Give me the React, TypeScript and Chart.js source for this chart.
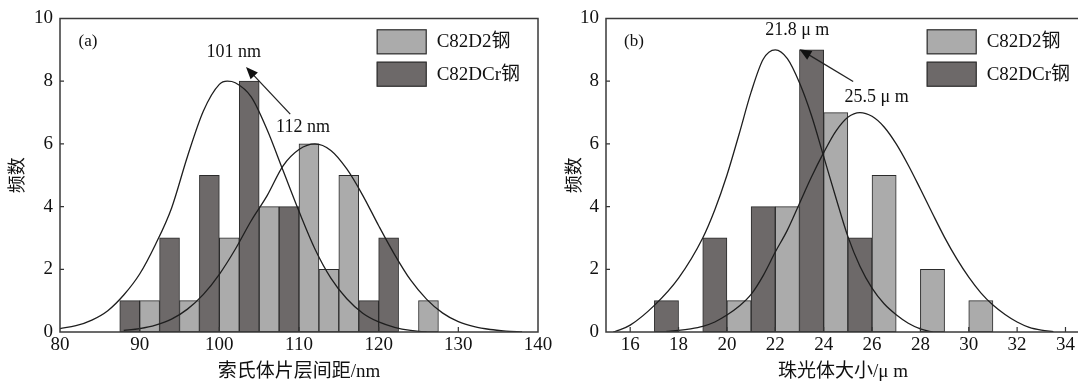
import React, { useEffect, useRef } from 'react';
import { Chart, registerables } from 'chart.js';

Chart.register(...registerables);

const FONT = "'Liberation Serif', 'Noto Sans CJK SC', serif";
const CJK = "'Liberation Serif', 'Noto Sans CJK SC', serif";
const INK = '#111111';

// ---------- shared ----------
const seriesNames = ['C82D2钢', 'C82DCr钢'];
const yTicks = [0, 2, 4, 6, 8, 10];
const LIGHT = '#ababab';
const DARK = '#6d6969';

// ---------- panel (a) ----------
const aXTicks = [80, 90, 100, 110, 120, 130, 140];
const aLightBinCenters = [91.25, 96.25, 101.25, 106.25, 111.25, 113.75, 116.25, 126.25];
const aLightCounts = [1, 1, 3, 4, 6, 2, 5, 1];
const aDarkBinCenters = [88.75, 93.75, 98.75, 103.75, 108.75, 118.75, 121.25];
const aDarkCounts = [1, 3, 5, 8, 4, 1, 3];
const aDarkFitX = [80, 82, 84, 86, 88, 90, 92, 94, 96, 98, 100, 101, 102, 104, 106, 108, 110, 112, 114, 116, 118, 120, 122, 124, 126];
const aDarkFitY = [0.11, 0.2, 0.38, 0.68, 1.18, 1.85, 2.8, 3.95, 5.6, 7.05, 7.9, 8.0, 7.95, 7.5, 6.45, 5.15, 3.85, 2.65, 1.72, 1.06, 0.6, 0.32, 0.15, 0.05, 0.0];
const aLightFitX = [88, 90, 92, 94, 96, 98, 100, 102, 104, 106, 108, 110, 112, 114, 116, 118, 120, 122, 124, 126, 128, 130, 132, 134, 136, 138];
const aLightFitY = [0.05, 0.11, 0.22, 0.41, 0.73, 1.2, 1.84, 2.64, 3.55, 4.35, 5.3, 5.82, 6.0, 5.79, 5.2, 4.36, 3.39, 2.47, 1.66, 1.05, 0.61, 0.33, 0.17, 0.08, 0.03, 0.0];
const aPeakLabels = ['101 nm', '112 nm'];
const aPeakLabelX = [101.8, 110.5];
const aPeakLabelY = [8.92, 6.52];
const aArrowFrom = [108.9, 6.95];
const aArrowTo = [103.35, 8.45];

// ---------- panel (b) ----------
const bXTicks = [16, 18, 20, 22, 24, 26, 28, 30, 32, 34];
const bLightBinCenters = [20.5, 22.5, 24.5, 26.5, 28.5, 30.5];
const bLightCounts = [1, 4, 7, 5, 2, 1];
const bDarkBinCenters = [17.5, 19.5, 21.5, 23.5, 25.5];
const bDarkCounts = [1, 3, 4, 9, 3];
const bDarkFitX = [15.3, 15.5, 16, 17, 18, 19, 19.5, 20, 20.5, 21, 21.5, 22, 22.5, 23, 23.5, 24, 24.5, 25, 25.5, 26, 26.5, 27, 27.5, 28, 28.5];
const bDarkFitY = [0.0, 0.05, 0.22, 0.85, 1.72, 3.0, 3.9, 5.0, 6.3, 7.65, 8.7, 9.0, 8.72, 7.95, 6.9, 5.6, 4.3, 3.05, 2.1, 1.4, 0.9, 0.55, 0.28, 0.1, 0.0];
const bLightFitX = [17.5, 18, 18.5, 19, 19.5, 20, 20.5, 21, 21.5, 22, 22.5, 23, 23.5, 24, 24.5, 25, 25.5, 26, 26.5, 27, 27.5, 28, 28.5, 29, 29.5, 30, 30.5, 31, 31.5, 32, 32.5, 33, 33.5];
const bLightFitY = [0.02, 0.05, 0.1, 0.18, 0.32, 0.54, 0.82, 1.2, 1.8, 2.55, 3.25, 4.1, 4.95, 5.72, 6.4, 6.85, 7.0, 6.88, 6.54, 6.0, 5.32, 4.56, 3.78, 3.02, 2.34, 1.75, 1.25, 0.86, 0.56, 0.32, 0.15, 0.06, 0.01];
const bPeakLabels = ['21.8 μ m', '25.5 μ m'];
const bPeakLabelX = [22.91, 26.19];
const bPeakLabelY = [9.64, 7.48];
const bArrowFrom = [25.22, 7.99];
const bArrowTo = [23.0, 9.02];

const decorPlugin = {
  id: 'decor',
  afterDatasetsDraw(chart: any, _args: any, opts: any) {
    const { ctx, chartArea: ca, scales } = chart;
    const xs = scales.x;
    const ys = scales.y;
    ctx.save();
    // inward tick marks
    ctx.strokeStyle = '#333';
    ctx.lineWidth = 1.2;
    ctx.beginPath();
    for (const v of opts.xTicks) {
      const px = xs.getPixelForValue(v);
      if (px > ca.left + 2 && px < ca.right - 2) {
        ctx.moveTo(px, ca.bottom);
        ctx.lineTo(px, ca.bottom - 5);
      }
    }
    for (const v of opts.yTicks) {
      const py = ys.getPixelForValue(v);
      if (py > ca.top + 2 && py < ca.bottom - 2) {
        ctx.moveTo(ca.left, py);
        ctx.lineTo(ca.left + 4, py);
      }
    }
    ctx.stroke();
    // frame
    ctx.strokeStyle = '#3a3a3a';
    ctx.lineWidth = 1.5;
    ctx.strokeRect(ca.left, ca.top, ca.right - ca.left, ca.bottom - ca.top);
    // panel tag
    ctx.fillStyle = INK;
    ctx.textAlign = 'center';
    ctx.textBaseline = 'middle';
    ctx.font = `17px ${FONT}`;
    ctx.fillText(opts.panel, ca.left + 28, ca.top + 23);
    // peak labels
    ctx.font = `18px ${FONT}`;
    opts.labels.forEach((t: string, i: number) => {
      ctx.fillText(t, xs.getPixelForValue(opts.labelX[i]), ys.getPixelForValue(opts.labelY[i]));
    });
    // arrow
    const x1 = xs.getPixelForValue(opts.arrowFrom[0]);
    const y1 = ys.getPixelForValue(opts.arrowFrom[1]);
    const x2 = xs.getPixelForValue(opts.arrowTo[0]);
    const y2 = ys.getPixelForValue(opts.arrowTo[1]);
    const ang = Math.atan2(y2 - y1, x2 - x1);
    const hl = 12;
    const hw = 5;
    ctx.strokeStyle = '#222';
    ctx.lineWidth = 1.3;
    ctx.beginPath();
    ctx.moveTo(x1, y1);
    ctx.lineTo(x2 - Math.cos(ang) * hl * 0.8, y2 - Math.sin(ang) * hl * 0.8);
    ctx.stroke();
    ctx.fillStyle = '#111';
    ctx.beginPath();
    ctx.moveTo(x2, y2);
    const bx = x2 - Math.cos(ang) * hl;
    const by = y2 - Math.sin(ang) * hl;
    ctx.lineTo(bx + Math.sin(ang) * hw, by - Math.cos(ang) * hw);
    ctx.lineTo(bx - Math.sin(ang) * hw, by + Math.cos(ang) * hw);
    ctx.closePath();
    ctx.fill();
    // legend
    const bars = chart.data.datasets.filter((d: any) => d.type === 'bar');
    const lx = ca.left + opts.legendX;
    let ly = ca.top + 10.8;
    ctx.textAlign = 'left';
    ctx.font = `19px ${FONT}`;
    bars.forEach((d: any) => {
      ctx.fillStyle = d.backgroundColor;
      ctx.fillRect(lx, ly, 50, 25);
      ctx.strokeStyle = '#333';
      ctx.lineWidth = 1.2;
      ctx.strokeRect(lx + 0.5, ly + 0.5, 49, 24);
      ctx.fillStyle = INK;
      ctx.fillText(d.label, lx + 60, ly + 13);
      ly += 32.4;
    });
    ctx.restore();
  },
};

function pts(xs: number[], ys: number[]) {
  return xs.map((x, i) => ({ x, y: ys[i] }));
}

function makeConfig(p: any) {
  const barBase = {
    type: 'bar',
    borderColor: '#2b2b2b',
    borderWidth: 1,
    borderSkipped: false,
    barPercentage: 1,
    categoryPercentage: 1,
    grouped: false,
    order: 1,
  };
  const lineBase = {
    type: 'line',
    borderColor: '#1e1e1e',
    borderWidth: 1.3,
    pointRadius: 0,
    fill: false,
    cubicInterpolationMode: 'monotone',
    order: 0,
  };
  return {
    type: 'bar',
    data: {
      datasets: [
        { ...barBase, label: seriesNames[0], backgroundColor: LIGHT, data: pts(p.lightX, p.lightY) },
        { ...barBase, label: seriesNames[1], backgroundColor: DARK, data: pts(p.darkX, p.darkY) },
        { ...lineBase, label: 'fit1', data: pts(p.fitDarkX, p.fitDarkY) },
        { ...lineBase, label: 'fit2', data: pts(p.fitLightX, p.fitLightY) },
      ],
    },
    options: {
      responsive: false,
      animation: false,
      devicePixelRatio: 1,
      layout: { padding: { left: 0, top: 18.5, right: p.padRight, bottom: 0 } },
      plugins: {
        legend: { display: false },
        tooltip: { enabled: false },
        decor: {
          xTicks: p.xTicks,
          yTicks,
          panel: p.panel,
          labels: p.labels,
          labelX: p.labelX,
          labelY: p.labelY,
          arrowFrom: p.arrowFrom,
          arrowTo: p.arrowTo,
          legendX: p.legendX,
        },
      },
      scales: {
        x: {
          type: 'linear',
          min: p.xMin,
          max: p.xMax,
          offset: false,
          grid: { display: false, drawTicks: false, offset: false },
          border: { display: false },
          afterBuildTicks: (s: any) => {
            s.ticks = p.xTicks.map((v: number) => ({ value: v }));
          },
          afterFit: (s: any) => {
            s.height = 51;
          },
          ticks: {
            padding: 2,
            color: INK,
            font: { family: FONT, size: 19 },
            maxRotation: 0,
            autoSkip: false,
          },
          title: {
            display: true,
            text: p.xTitle,
            color: INK,
            font: { family: CJK, size: 19 },
            padding: { top: 0, bottom: 0 },
          },
        },
        y: {
          type: 'linear',
          min: 0,
          max: 10,
          grid: { display: false, drawTicks: false },
          border: { display: false },
          afterBuildTicks: (s: any) => {
            s.ticks = yTicks.map((v) => ({ value: v }));
          },
          afterFit: (s: any) => {
            s.width = p.yWidth;
          },
          ticks: {
            padding: 7,
            color: INK,
            font: { family: FONT, size: 19 },
          },
          title: {
            display: true,
            text: '频数',
            color: INK,
            font: { family: CJK, size: 18 },
            padding: { top: 7, bottom: 0 },
          },
        },
      },
    },
    plugins: [decorPlugin],
  };
}

const panelA = {
  panel: '(a)',
  xMin: 80,
  xMax: 140,
  xTicks: aXTicks,
  lightX: aLightBinCenters,
  lightY: aLightCounts,
  darkX: aDarkBinCenters,
  darkY: aDarkCounts,
  fitDarkX: aDarkFitX,
  fitDarkY: aDarkFitY,
  fitLightX: aLightFitX,
  fitLightY: aLightFitY,
  labels: aPeakLabels,
  labelX: aPeakLabelX,
  labelY: aPeakLabelY,
  arrowFrom: aArrowFrom,
  arrowTo: aArrowTo,
  xTitle: '索氏体片层间距/nm',
  yWidth: 60,
  padRight: 22,
  legendX: 316.7,
};

const panelB = {
  panel: '(b)',
  xMin: 15,
  xMax: 34.6,
  xTicks: bXTicks,
  lightX: bLightBinCenters,
  lightY: bLightCounts,
  darkX: bDarkBinCenters,
  darkY: bDarkCounts,
  fitDarkX: bDarkFitX,
  fitDarkY: bDarkFitY,
  fitLightX: bLightFitX,
  fitLightY: bLightFitY,
  labels: bPeakLabels,
  labelX: bPeakLabelX,
  labelY: bPeakLabelY,
  arrowFrom: bArrowFrom,
  arrowTo: bArrowTo,
  xTitle: '珠光体大小/μ m',
  yWidth: 49,
  padRight: 17,
  legendX: 320.7,
};

function Panel({ p, left, width }: { p: any; left: number; width: number }) {
  const ref = useRef<HTMLCanvasElement>(null);
  useEffect(() => {
    const chart = new Chart(ref.current as HTMLCanvasElement, makeConfig(p) as any);
    return () => chart.destroy();
  }, [p]);
  return (
    <canvas
      ref={ref}
      width={width}
      height={383}
      style={{ position: 'absolute', left, top: 0, width, height: 383 }}
    />
  );
}

export default function App() {
  return (
    <div
      style={{
        position: 'fixed',
        left: 0,
        top: 0,
        width: 1078,
        height: 383,
        overflow: 'hidden',
        background: '#ffffff',
      }}
    >
      <Panel p={panelA} left={0} width={560} />
      <Panel p={panelB} left={557} width={540} />
    </div>
  );
}
